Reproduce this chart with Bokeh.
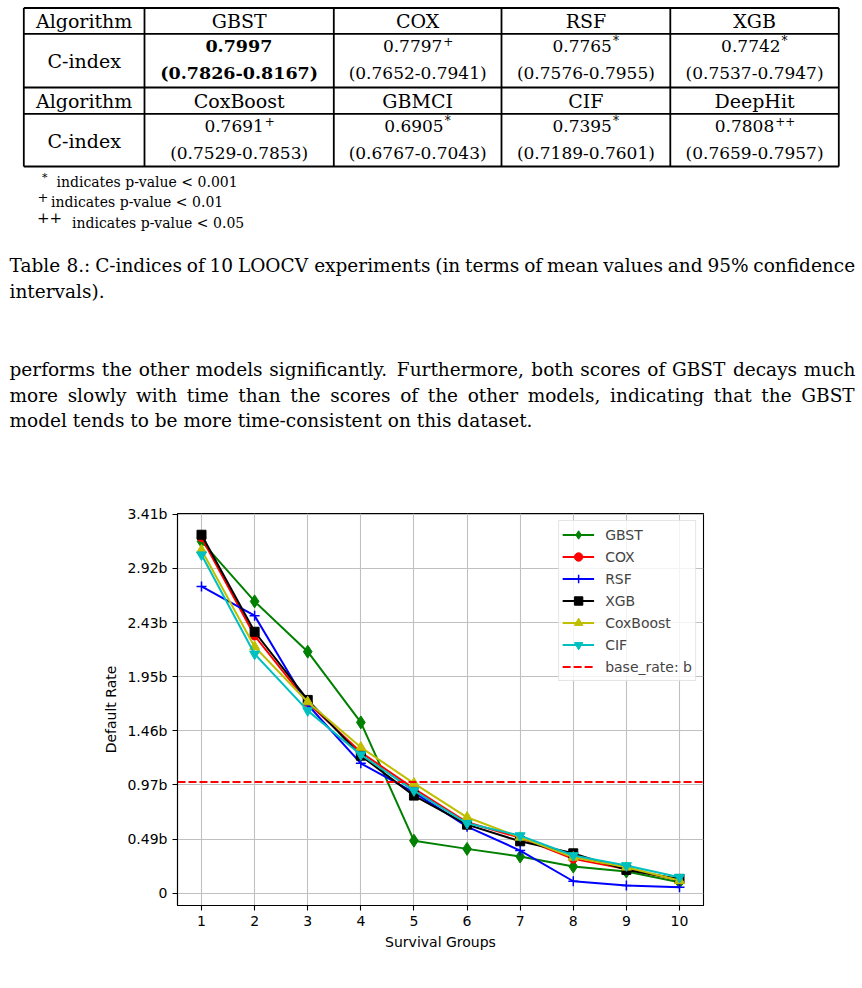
from bokeh.plotting import figure
from bokeh.models import Range1d, FixedTicker
from bokeh.core.properties import value
from bokeh.embed import file_html
from bokeh.resources import INLINE

# ---------------- data ----------------
groups = [1, 2, 3, 4, 5, 6, 7, 8, 9, 10]
gbst     = [3.163, 2.624, 2.172, 1.536, 0.473, 0.399, 0.330, 0.240, 0.195, 0.099]
cox      = [3.199, 2.315, 1.713, 1.267, 0.941, 0.638, 0.498, 0.309, 0.219, 0.120]
rsf      = [2.758, 2.495, 1.695, 1.168, 0.907, 0.599, 0.384, 0.108, 0.069, 0.054]
xgb      = [3.223, 2.351, 1.738, 1.237, 0.878, 0.617, 0.467, 0.359, 0.210, 0.129]
coxboost = [3.085, 2.217, 1.720, 1.312, 0.988, 0.683, 0.503, 0.323, 0.234, 0.114]
cif      = [3.043, 2.151, 1.642, 1.246, 0.923, 0.629, 0.518, 0.339, 0.249, 0.144]
base_rate = 1.0
ytick_vals = [0.0, 0.4868, 0.9736, 1.4604, 1.9472, 2.434, 2.9208, 3.4076]
ytick_labels = ["0", "0.49b", "0.97b", "1.46b", "1.95b", "2.43b", "2.92b", "3.41b"]

table_algos_1 = ["GBST", "COX", "RSF", "XGB"]
table_means_1 = ["0.7997", "0.7797", "0.7765", "0.7742"]
table_sig_1 = ["", "+", "*", "*"]
table_ci_1 = ["(0.7826-0.8167)", "(0.7652-0.7941)", "(0.7576-0.7955)", "(0.7537-0.7947)"]
table_algos_2 = ["CoxBoost", "GBMCI", "CIF", "DeepHit"]
table_means_2 = ["0.7691", "0.6905", "0.7395", "0.7808"]
table_sig_2 = ["+", "*", "*", "++"]
table_ci_2 = ["(0.7529-0.7853)", "(0.6767-0.7043)", "(0.7189-0.7601)", "(0.7659-0.7957)"]

footnotes = [("*", "indicates p-value < 0.001"),
             ("+", "indicates p-value < 0.01"),
             ("++", "indicates p-value < 0.05")]
caption_lines = ["Table 8.: C-indices of 10 LOOCV experiments (in terms of mean values and 95% confidence",
                 "intervals)."]
para_lines = ["performs the other models significantly. Furthermore, both scores of GBST decays much",
              "more slowly with time than the scores of the other models, indicating that the GBST",
              "model tends to be more time-consistent on this dataset."]

SERIF = "DejaVu Serif"
SANS = "DejaVu Sans"

# approximate DejaVu Serif advance widths (em), used only for layout
CW = {' ': .318, 'a': .596, 'b': .640, 'c': .560, 'd': .640, 'e': .592, 'f': .370, 'g': .640,
      'h': .644, 'i': .320, 'j': .310, 'k': .606, 'l': .320, 'm': .948, 'n': .644, 'o': .602,
      'p': .640, 'q': .640, 'r': .478, 's': .513, 't': .402, 'u': .644, 'v': .565, 'w': .856,
      'x': .564, 'y': .565, 'z': .527, 'T': .669, 'C': .765, 'L': .694, 'O': .820, 'V': .763,
      'F': .730, 'G': .821, 'B': .757, 'S': .685, '.': .318, ',': .318, ':': .337, '(': .390,
      ')': .390, '%': .950, '-': .338}
for d in "0123456789":
    CW[d] = .636
CWB = {k: v * 1.09 for k, v in CW.items()}
for d in "0123456789":
    CWB[d] = .696
CWB['.'] = .38

def width(s, F, bold=False):
    t = CWB if bold else CW
    return sum(t.get(c, .6) for c in s) * F

# ---------------- top part: table and text ----------------
top = figure(width=862, height=490, x_range=Range1d(0, 862), y_range=Range1d(490, 0),
             x_axis_type=None, y_axis_type=None, output_backend="svg",
             toolbar_location=None, min_border=0)
top.grid.visible = False
top.outline_line_color = None

def txt(x, y, s, size, align="left", bold=False):
    # y is the intended baseline; compensate the renderer's baseline offset
    yy = [v - 0.32 * size for v in y]
    top.text(x=x, y=yy, text=s, text_font=value(SERIF), text_font_size=value(f"{size}px"),
             text_align=align, text_baseline="alphabetic", text_color="black",
             text_font_style="bold" if bold else "normal")

col_x = [23.3, 144.0, 333.3, 501.0, 669.8, 838.3]
row_y = [7.5, 33.3, 87.0, 113.3, 166.0]
top.segment(x0=[col_x[0]] * len(row_y), y0=row_y, x1=[col_x[-1]] * len(row_y), y1=row_y,
            line_color="black", line_width=1.8)
top.segment(x0=col_x, y0=[row_y[0]] * len(col_x), x1=col_x, y1=[row_y[-1]] * len(col_x),
            line_color="black", line_width=1.8)

centers = [(col_x[i] + col_x[i + 1]) / 2 for i in range(5)]
FW = 19     # words in table
FN = 17     # numbers in table
SUPF = 12

txt([centers[0]] * 2, [26.5, 106.5], ["Algorithm", "Algorithm"], FW, "center")
txt([centers[0]] * 2, [67.0, 146.5], ["C-index", "C-index"], FW, "center")
txt(centers[1:], [26.5] * 4, table_algos_1, FW, "center")
txt(centers[1:], [106.5] * 4, table_algos_2, FW, "center")

for row, (means, sigs, cis, yb1, yb2) in enumerate([
        (table_means_1, table_sig_1, table_ci_1, 51.0, 78.0),
        (table_means_2, table_sig_2, table_ci_2, 131.0, 157.5)]):
    for i in range(4):
        cx = centers[i + 1]
        bold = (row == 0 and i == 0)
        fs = 17.5 if bold else FN
        wm = width(means[i], fs, bold)
        ws = (0.62 if sigs[i] == "*" else 0.84) * SUPF * len(sigs[i])
        left = cx - (wm + ws) / 2
        txt([left], [yb1], [means[i]], fs, "left", bold)
        if sigs[i]:
            txt([left + wm + 1], [yb1 - 7], [sigs[i]], SUPF, "left")
        txt([cx], [yb2], [cis[i]], fs, "center", bold)

# footnotes
fn_mark_x = [41.5, 37.0, 36.5]
fn_mark_size = [11, 13, 15]
fn_text_x = [56.0, 50.5, 71.5]
fn_base = [185.5, 205.8, 226.5]
for (m, t), mx, ms, tx, yb in zip(footnotes, fn_mark_x, fn_mark_size, fn_text_x, fn_base):
    txt([mx], [yb - 5], [m], ms, "left")
    txt([tx], [yb], [t], 14, "left")

# caption and paragraph (justified lines placed word by word)
FT = 18.5
X0, X1 = 9.0, 855.0

def justified(line, yb):
    words = line.split(" ")
    ws = [width(w, FT) for w in words]
    gap = (X1 - X0 - sum(ws)) / (len(words) - 1)
    xs, x = [], X0
    for w in ws:
        xs.append(x)
        x += w + gap
    txt(xs, [yb] * len(words), words, FT, "left")

justified(caption_lines[0], 270.5)
txt([X0], [296.5], [caption_lines[1]], FT, "left")
justified(para_lines[0], 375.0)
justified(para_lines[1], 400.5)
txt([X0], [426.0], [para_lines[2]], FT, "left")

# ---------------- chart ----------------
p = figure(width=862, height=490, x_range=Range1d(0.548, 10.452), y_range=Range1d(-0.11, 3.414),
           output_backend="svg", toolbar_location=None,
           min_border_left=177, min_border_right=159, min_border_top=23, min_border_bottom=75,
           x_axis_label="Survival Groups", y_axis_label="Default Rate")

series = [("GBST", gbst, "#008000", "diamond", 13),
          ("COX", cox, "#ff0000", "circle", 8.5),
          ("RSF", rsf, "#0000ff", "cross", 10),
          ("XGB", xgb, "#000000", "square", 9),
          ("CoxBoost", coxboost, "#bfbf00", "triangle", 10),
          ("CIF", cif, "#00bfbf", "inverted_triangle", 10)]
for name, vals, color, marker, size in series:
    p.line(groups, vals, line_color=color, line_width=2, legend_label=name)
    p.scatter(groups, vals, marker=marker, size=size, line_color=color, fill_color=color,
              line_width=1.5 if marker == "cross" else 1, legend_label=name)

p.line([p.x_range.start, p.x_range.end], [base_rate, base_rate], line_color="#ff0000",
       line_width=2, line_dash="8 3", legend_label="base_rate: b")

p.xaxis.ticker = FixedTicker(ticks=groups)
p.yaxis.ticker = FixedTicker(ticks=ytick_vals)
p.yaxis.major_label_overrides = {v: l for v, l in zip(ytick_vals, ytick_labels)}
p.axis.major_tick_out = 5
p.axis.major_tick_in = 0
p.axis.minor_tick_line_color = None
p.axis.major_label_standoff = 5
p.axis.axis_line_width = 1.1
p.axis.axis_line_color = "black"
p.axis.major_tick_line_color = "black"
p.axis.major_tick_line_width = 1.1
p.axis.major_label_text_font = SANS
p.axis.major_label_text_font_size = "14px"
p.axis.major_label_text_color = "black"
p.axis.axis_label_text_font = SANS
p.axis.axis_label_text_font_size = "14px"
p.axis.axis_label_text_font_style = "normal"
p.axis.axis_label_text_color = "black"
p.axis.axis_label_standoff = 5
p.outline_line_color = "black"
p.outline_line_width = 1.1
p.outline_line_alpha = 1
p.grid.grid_line_color = "#c0c0c0"
p.grid.grid_line_width = 1.1

lg = p.legend[0]
lg.location = "top_right"
lg.margin = 7
lg.padding = 3
lg.spacing = 1
lg.glyph_width = 32
lg.glyph_height = 21
lg.label_height = 21
lg.label_standoff = 11
lg.label_text_font = SANS
lg.label_text_font_size = "14px"
lg.border_line_color = "#cccccc"
lg.border_line_width = 1
lg.background_fill_alpha = 0.8

open("out.html", "w").write(file_html([top, p], INLINE))
